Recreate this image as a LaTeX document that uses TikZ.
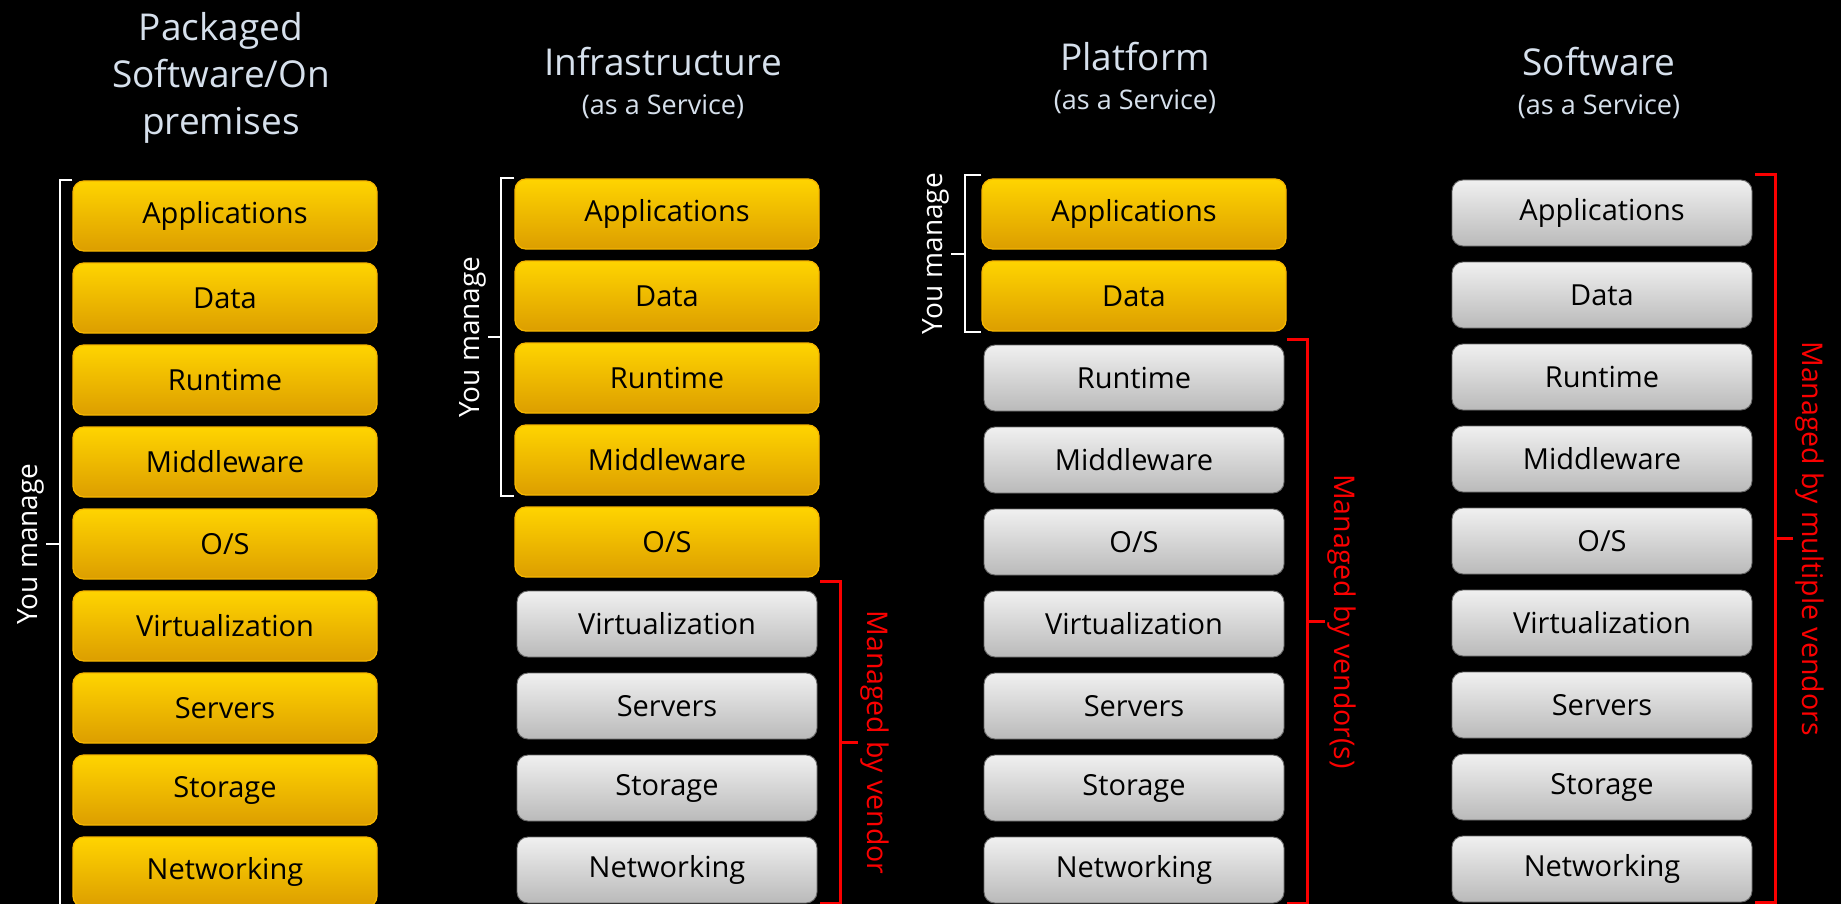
\documentclass[tikz,border=0pt]{standalone}
\usepackage{fontspec}
\setmainfont{Open Sans}
\usetikzlibrary{positioning,calc}

\definecolor{YolkTop}{RGB}{255,212,0}
\definecolor{YolkBot}{RGB}{220,158,0}
\definecolor{YolkRim}{RGB}{246,182,0}
\definecolor{AshTop}{RGB}{240,240,240}
\definecolor{AshBot}{RGB}{186,186,186}
\definecolor{AshRim}{RGB}{105,105,105}
\definecolor{HeadInk}{RGB}{214,224,236}
\definecolor{VendorRed}{RGB}{250,0,0}

\begin{document}
\begin{tikzpicture}[x=1pt,y=-1pt,node distance=82pt,on grid]
  \tikzset{YouBox/.style={draw=YolkRim,line width=1.3pt,rounded corners=11pt,
      top color=YolkTop,bottom color=YolkBot,minimum width=304pt,
      minimum height=70pt,inner sep=0pt,text=black,
      font=\fontsize{29}{34}\selectfont},
    VendorBox/.style={draw=AshRim,line width=0.9pt,rounded corners=11pt,
      top color=AshTop,bottom color=AshBot,minimum width=300pt,
      minimum height=66pt,inner sep=0pt,text=black,
      font=\fontsize{29}{34}\selectfont},
    HeadStyle/.style={text=HeadInk,align=center,anchor=base,
      font=\fontsize{37}{47}\selectfont},
    SubHeadStyle/.style={text=HeadInk,anchor=base,
      font=\fontsize{27}{32}\selectfont},
    YouBrace/.style={draw=white,line width=2pt},
    VendorBrace/.style={draw=VendorRed,line width=2.6pt},
    YouLabel/.style={text=white,rotate=90,anchor=south,inner sep=2pt,
      font=\fontsize{28}{33}\selectfont},
    VendorLabel/.style={text=VendorRed,rotate=-90,anchor=south,inner sep=2pt,
      font=\fontsize{28.5}{33}\selectfont}}
  \fill[black] (0,0) rectangle (1841,904);
  \clip (0,0) rectangle (1841,904);

  % headings
  \node[HeadStyle] (opH) at (221,135) {Packaged\\Software/On\\premises};
  \node[HeadStyle] (iaH) at (663,76) {Infrastructure};
  \node[SubHeadStyle] (iaS) at (663,115) {(as a Service)};
  \node[HeadStyle] (paH) at (1135,71) {Platform};
  \node[SubHeadStyle] (paS) at (1135,110) {(as a Service)};
  \node[HeadStyle] (saH) at (1599,76) {Software};
  \node[SubHeadStyle] (saS) at (1599,115) {(as a Service)};

  % packaged software / on premises
  \node[YouBox] (op1) at (225,216) {Applications};
  \node[YouBox, below=of op1] (op2) {Data};
  \node[YouBox, below=of op2] (op3) {Runtime};
  \node[YouBox, below=of op3] (op4) {Middleware};
  \node[YouBox, below=of op4] (op5) {O/S};
  \node[YouBox, below=of op5] (op6) {Virtualization};
  \node[YouBox, below=of op6] (op7) {Servers};
  \node[YouBox, below=of op7] (op8) {Storage};
  \node[YouBox, below=of op8] (op9) {Networking};

  % infrastructure
  \node[YouBox] (ia1) at (667,214) {Applications};
  \node[YouBox, below=of ia1] (ia2) {Data};
  \node[YouBox, below=of ia2] (ia3) {Runtime};
  \node[YouBox, below=of ia3] (ia4) {Middleware};
  \node[YouBox, below=of ia4] (ia5) {O/S};
  \node[VendorBox, below=of ia5] (ia6) {Virtualization};
  \node[VendorBox, below=of ia6] (ia7) {Servers};
  \node[VendorBox, below=of ia7] (ia8) {Storage};
  \node[VendorBox, below=of ia8] (ia9) {Networking};

  % platform
  \node[YouBox] (pa1) at (1134,214) {Applications};
  \node[YouBox, below=of pa1] (pa2) {Data};
  \node[VendorBox, below=of pa2] (pa3) {Runtime};
  \node[VendorBox, below=of pa3] (pa4) {Middleware};
  \node[VendorBox, below=of pa4] (pa5) {O/S};
  \node[VendorBox, below=of pa5] (pa6) {Virtualization};
  \node[VendorBox, below=of pa6] (pa7) {Servers};
  \node[VendorBox, below=of pa7] (pa8) {Storage};
  \node[VendorBox, below=of pa8] (pa9) {Networking};

  % software
  \node[VendorBox] (sa1) at (1602,213) {Applications};
  \node[VendorBox, below=of sa1] (sa2) {Data};
  \node[VendorBox, below=of sa2] (sa3) {Runtime};
  \node[VendorBox, below=of sa3] (sa4) {Middleware};
  \node[VendorBox, below=of sa4] (sa5) {O/S};
  \node[VendorBox, below=of sa5] (sa6) {Virtualization};
  \node[VendorBox, below=of sa6] (sa7) {Servers};
  \node[VendorBox, below=of sa7] (sa8) {Storage};
  \node[VendorBox, below=of sa8] (sa9) {Networking};

  % you manage
  \draw[YouBrace] (op1.north west) -- ++(-12,0) coordinate (opT)
    -- (opT |- op9.south) coordinate (opB) -- (op9.south west);
  \draw[YouBrace] ($(opT)!0.5!(opB)$) -- ++(-14,0) coordinate (opM);
  \node[YouLabel] (opL) at (opM) {You manage};

  \draw[YouBrace] (ia1.north west) -- ++(-13,0) coordinate (iaT)
    -- (iaT |- ia4.south) coordinate (iaB) -- (ia4.south west);
  \draw[YouBrace] ($(iaT)!0.5!(iaB)$) -- ++(-13,0) coordinate (iaM);
  \node[YouLabel] (iaL) at (iaM) {You manage};

  \draw[YouBrace] ([yshift=3pt]pa1.north west) -- ++(-16,0) coordinate (paT)
    -- (paT |- pa2.south) coordinate (paB) -- (pa2.south west);
  \draw[YouBrace] ($(paT)!0.5!(paB)$) -- ++(-14,0) coordinate (paM);
  \node[YouLabel] (paL) at (paM) {You manage};

  % managed by vendor
  \draw[VendorBrace] ([xshift=3pt,yshift=9pt]ia6.north east) -- ++(20,0)
    coordinate (ivT) -- (ivT |- ia9.south) coordinate (ivB)
    -- ([xshift=3pt]ia9.south east);
  \draw[VendorBrace] ($(ivT)!0.5!(ivB)$) -- ++(18,0) coordinate (ivM);
  \node[VendorLabel] (ivL) at (ivM) {Managed by vendor};

  \draw[VendorBrace] ([xshift=3pt,yshift=5pt]pa3.north east) -- ++(20,0)
    coordinate (pvT) -- (pvT |- pa9.south) coordinate (pvB)
    -- ([xshift=3pt]pa9.south east);
  \draw[VendorBrace] ($(pvT)!0.5!(pvB)$) -- ++(18,0) coordinate (pvM);
  \node[VendorLabel] (pvL) at (pvM) {Managed by vendor(s)};

  \draw[VendorBrace] ([xshift=3pt,yshift=5pt]sa1.north east) -- ++(20,0)
    coordinate (svT) -- (svT |- sa9.south) coordinate (svB)
    -- ([xshift=3pt]sa9.south east);
  \draw[VendorBrace] ($(svT)!0.5!(svB)$) -- ++(18,0) coordinate (svM);
  \node[VendorLabel] (svL) at (svM) {Managed by multiple vendors};
\end{tikzpicture}
\end{document}
